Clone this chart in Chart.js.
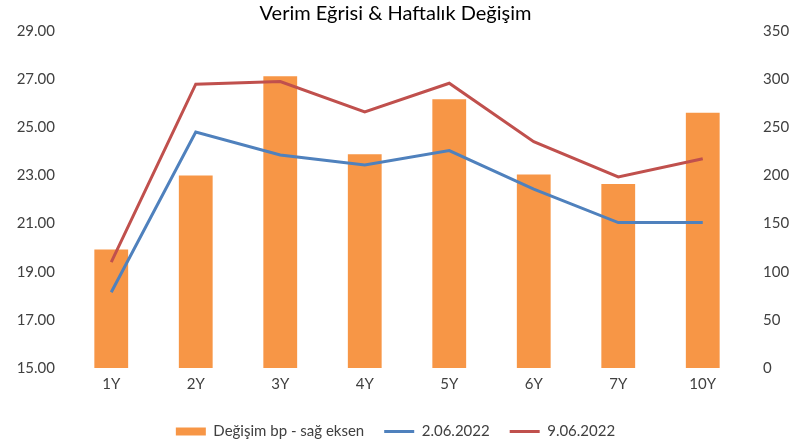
<!DOCTYPE html>
<html><head><meta charset="utf-8">
<script src="https://cdn.jsdelivr.net/npm/chart.js@4/dist/chart.umd.min.js"></script>
<style>html,body{margin:0;padding:0;background:#fff}#wrap{width:791px;height:444px}</style>
</head><body><div id="wrap"><canvas id="c" width="791" height="444"></canvas></div>
<script>
const categories = ['1Y','2Y','3Y','4Y','5Y','6Y','7Y','10Y'];
const changeBp = [123, 200, 303, 222, 279, 201, 191, 265];
const yield0206 = [18.15, 24.80, 23.85, 23.43, 24.03, 22.43, 21.04, 21.04];
const yield0906 = [19.40, 26.79, 26.90, 25.64, 26.83, 24.40, 22.94, 23.69];
const leftTicks = [15, 17, 19, 21, 23, 25, 27, 29];
const rightTicks = [0, 50, 100, 150, 200, 250, 300, 350];
const FONT = 'Lato';
const TXT = '#404040';

new Chart(document.getElementById('c'), {
  data: {
    labels: categories,
    datasets: [
      { type: 'bar', label: 'Değişim bp - sağ eksen', data: changeBp, yAxisID: 'yR',
        backgroundColor: '#F79646', borderWidth: 0, barPercentage: 0.4, categoryPercentage: 1.0,
        pointStyle: 'rect', order: 3 },
      { type: 'line', label: '2.06.2022', data: yield0206, yAxisID: 'yL',
        borderColor: '#4F81BD', backgroundColor: '#4F81BD', borderWidth: 3, pointRadius: 0,
        pointStyle: 'line', tension: 0, order: 1 },
      { type: 'line', label: '9.06.2022', data: yield0906, yAxisID: 'yL',
        borderColor: '#C0504D', backgroundColor: '#C0504D', borderWidth: 3, pointRadius: 0,
        pointStyle: 'line', tension: 0, order: 2 }
    ]
  },
  options: {
    responsive: false, animation: false,
    layout: { padding: { left: 0, right: 0, top: 0, bottom: -5 } },
    plugins: {
      title: { display: true, text: 'Verim Eğrisi & Haftalık Değişim', color: '#000',
        font: { family: FONT, size: 20, weight: 'normal' }, padding: { top: 2, bottom: 5 } },
      legend: { position: 'bottom',
        labels: { usePointStyle: true, pointStyleWidth: 30, boxHeight: 8, color: TXT,
          font: { family: FONT, size: 15 }, padding: 20,
          sort: (a, b) => a.datasetIndex - b.datasetIndex } },
      tooltip: { enabled: false }
    },
    scales: {
      x: { grid: { display: false, drawTicks: false }, border: { display: false },
        ticks: { color: TXT, font: { family: FONT, size: 15 }, padding: 7 },
        afterFit: s => { s.height = 36; } },
      yL: { position: 'left', min: 15, max: 29, grid: { display: false, drawTicks: false },
        border: { display: false },
        afterBuildTicks: s => { s.ticks = leftTicks.map(v => ({ value: v })); },
        ticks: { color: TXT, font: { family: FONT, size: 15 }, padding: 14,
          callback: v => Number(v).toFixed(2) },
        afterFit: s => { s.width = 69; } },
      yR: { position: 'right', min: 0, max: 350, grid: { display: false, drawTicks: false },
        border: { display: false },
        afterBuildTicks: s => { s.ticks = rightTicks.map(v => ({ value: v })); },
        ticks: { color: TXT, font: { family: FONT, size: 15 }, padding: 18 },
        afterFit: s => { s.width = 46; } }
    }
  }
});
</script></body></html>
